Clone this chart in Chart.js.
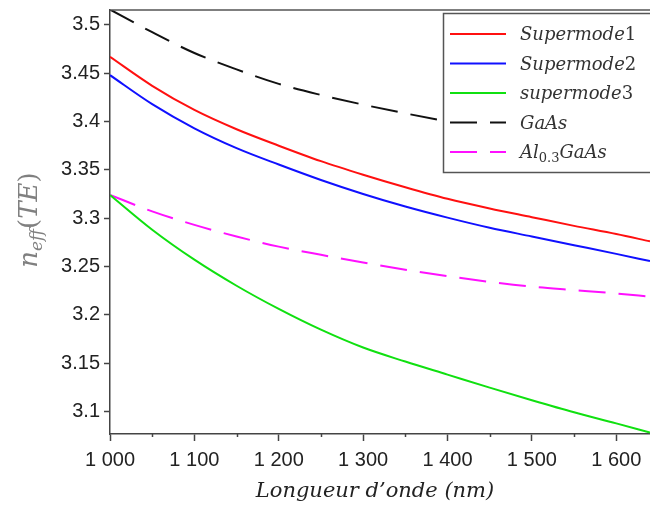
<!DOCTYPE html>
<html>
<head>
<meta charset="utf-8">
<script src="https://cdn.jsdelivr.net/npm/chart.js@4/dist/chart.umd.min.js"></script>
<style>
  body { margin: 0; background: #fff; }
  #wrap { width: 650px; height: 511px; position: relative; }
</style>
</head>
<body>
<div id="wrap"><canvas id="myChart"></canvas></div>
<script>
// wavelengths in nm
var wavelengths = [1000, 1050, 1100, 1150, 1200, 1250, 1300, 1350, 1400, 1450, 1500, 1550, 1600, 1640];

// effective index n_eff (TE)
var supermode1 = [3.467, 3.437, 3.412, 3.392, 3.375, 3.359, 3.345, 3.332, 3.320, 3.310, 3.301, 3.292, 3.2835, 3.276];
var supermode2 = [3.448, 3.418, 3.393, 3.3725, 3.3555, 3.3395, 3.325, 3.312, 3.3005, 3.290, 3.281, 3.272, 3.263, 3.2555];
var supermode3 = [3.324, 3.288, 3.257, 3.230, 3.206, 3.1845, 3.166, 3.1515, 3.138, 3.1245, 3.1115, 3.099, 3.0875, 3.078];
var gaas       = [3.516, 3.4925, 3.471, 3.454, 3.439, 3.4275, 3.4175, 3.4085, 3.400, 3.392, 3.3845, 3.3775, 3.371, 3.366];
var algaas     = [3.324, 3.307, 3.293, 3.281, 3.2705, 3.262, 3.254, 3.2465, 3.240, 3.234, 3.229, 3.2255, 3.222, 3.2188];

var seriesNames = ['Supermode1', 'Supermode2', 'supermode3', 'GaAs', 'Al0.3GaAs'];

var xTicks = [1000, 1100, 1200, 1300, 1400, 1500, 1600];
var xMinorTicks = [1050, 1150, 1250, 1350, 1450, 1550];
var yTicks = [3.1, 3.15, 3.2, 3.25, 3.3, 3.35, 3.4, 3.45, 3.5];

function pts(vals) {
    return wavelengths.map(function (w, i) { return { x: w, y: vals[i] }; });
}

function mkSet(label, vals, color, dashed) {
    return {
        label: label,
        data: pts(vals),
        borderColor: color,
        backgroundColor: color,
        borderWidth: 2,
        borderDash: dashed ? [27, 13] : [],
        pointRadius: 0,
        cubicInterpolationMode: 'monotone',
        fill: false
    };
}

var data = {
    datasets: [
        mkSet(seriesNames[0], supermode1, '#ff1010', false),
        mkSet(seriesNames[1], supermode2, '#1010ff', false),
        mkSet(seriesNames[2], supermode3, '#10e010', false),
        mkSet(seriesNames[3], gaas, '#111111', true),
        mkSet(seriesNames[4], algaas, '#ff10ff', true)
    ]
};

// draw text made of pieces with their own font / vertical shift
function richText(ctx, x, y, parts) {
    parts.forEach(function (p) {
        ctx.font = p.font;
        ctx.fillText(p.t, x, y + (p.dy || 0));
        x += ctx.measureText(p.t).width;
    });
}
function richWidth(ctx, parts) {
    var w = 0;
    parts.forEach(function (p) { ctx.font = p.font; w += ctx.measureText(p.t).width; });
    return w;
}

var IT = 'italic 18px "DejaVu Serif"';
var UP = '18px "DejaVu Serif"';

function labelParts(name) {
    var m = name.match(/^(\D+)([\d.]+)(.*)$/);
    if (!m) return [{ t: name, font: IT }];
    if (m[3]) {
        return [{ t: m[1], font: IT }, { t: m[2], font: '13px "DejaVu Serif"', dy: 4 }, { t: m[3], font: IT }];
    }
    return [{ t: m[1], font: IT }, { t: m[2], font: UP }];
}

var extras = {
    id: 'extras',
    afterDatasetsDraw: function (chart) {
        var ctx = chart.ctx, a = chart.chartArea, xs = chart.scales.x;
        ctx.save();
        // top frame
        ctx.strokeStyle = '#555';
        ctx.lineWidth = 1.5;
        ctx.beginPath();
        ctx.moveTo(a.left, a.top);
        ctx.lineTo(a.right, a.top);
        ctx.stroke();
        // minor ticks
        ctx.strokeStyle = '#444';
        xMinorTicks.forEach(function (v) {
            var px = Math.round(xs.getPixelForValue(v)) + 0.5;
            ctx.beginPath();
            ctx.moveTo(px, a.bottom);
            ctx.lineTo(px, a.bottom + 3);
            ctx.stroke();
        });

        // legend
        ctx.fillStyle = '#fff';
        ctx.fillRect(443, 13, 220, 159);
        ctx.strokeStyle = '#555';
        ctx.lineWidth = 1.5;
        ctx.strokeRect(443.5, 13.5, 220, 159);
        chart.data.datasets.forEach(function (ds, i) {
            var y = 34 + i * 29.5;
            ctx.strokeStyle = ds.borderColor;
            ctx.lineWidth = 2;
            ctx.setLineDash(ds.borderDash);
            ctx.beginPath();
            ctx.moveTo(450, y);
            ctx.lineTo(506, y);
            ctx.stroke();
            ctx.setLineDash([]);
            ctx.fillStyle = '#333';
            ctx.textBaseline = 'alphabetic';
            richText(ctx, 520, y + 6, labelParts(ds.label));
        });

        // x title
        ctx.fillStyle = '#222';
        ctx.font = 'italic 21px "DejaVu Serif"';
        ctx.textAlign = 'center';
        ctx.textBaseline = 'alphabetic';
        ctx.fillText('Longueur d\u2019onde (nm)', 375, 497);

        // y title n_eff(TE)
        ctx.textAlign = 'left';
        var yt = [
            { t: 'n', font: 'italic 26px "DejaVu Serif"' },
            { t: 'eff', font: 'italic 17px "DejaVu Serif"', dy: 5 },
            { t: '(', font: '26px "DejaVu Serif"' },
            { t: 'TE', font: 'italic 26px "DejaVu Serif"' },
            { t: ')', font: '26px "DejaVu Serif"' }
        ];
        ctx.translate(37, 220);
        ctx.rotate(-Math.PI / 2);
        ctx.fillStyle = '#808080';
        richText(ctx, -richWidth(ctx, yt) / 2, 0, yt);
        ctx.restore();
    }
};

var tickFont = { family: '"Liberation Sans", Arial, sans-serif', size: 20 };

var options = {
    responsive: true,
    maintainAspectRatio: false,
    animation: false,
    layout: { padding: { top: 10, right: 0, left: 0, bottom: 0 } },
    plugins: { legend: { display: false }, tooltip: { enabled: false } },
    scales: {
        x: {
            type: 'linear',
            min: 1000,
            max: 1640,
            afterBuildTicks: function (s) { s.ticks = xTicks.map(function (v) { return { value: v }; }); },
            afterFit: function (s) { s.height = 77; s.paddingLeft = 0; s.paddingRight = 0; },
            grid: { drawOnChartArea: false, drawTicks: true, tickLength: 7, tickColor: '#444', tickWidth: 1.5 },
            border: { display: true, color: '#444', width: 1.5 },
            ticks: {
                autoSkip: false, maxRotation: 0, padding: 7, color: '#222', font: tickFont,
                callback: function (v) { return String(v).replace(/\B(?=(\d{3})+(?!\d))/g, ' '); }
            }
        },
        y: {
            min: 3.0765,
            max: 3.5155,
            afterBuildTicks: function (s) { s.ticks = yTicks.map(function (v) { return { value: v }; }); },
            afterFit: function (s) { s.width = 110; s.paddingTop = 0; s.paddingBottom = 0; },
            grid: { drawOnChartArea: false, drawTicks: true, tickLength: 6, tickColor: '#444', tickWidth: 1.5 },
            border: { display: true, color: '#444', width: 1.5 },
            ticks: {
                padding: 4, color: '#222', font: tickFont,
                callback: function (v) { return String(Number(v.toFixed(2))); }
            }
        }
    }
};

var ctx = document.getElementById('myChart');
var myChart = new Chart(ctx, {
    type: 'line',
    data: data,
    options: options,
    plugins: [extras]
});
</script>
</body>
</html>
